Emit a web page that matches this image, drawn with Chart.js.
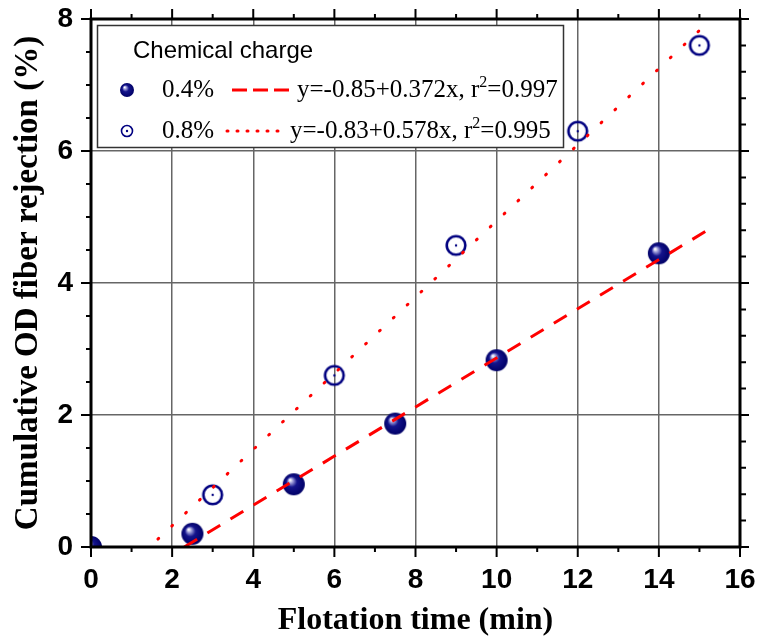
<!DOCTYPE html>
<html>
<head>
<meta charset="utf-8">
<script src="https://cdn.jsdelivr.net/npm/chart.js@4.4.1/dist/chart.umd.min.js"></script>
<style>
  html, body { margin: 0; padding: 0; background: #fff; }
  #chart { display: block; }
</style>
</head>
<body>
<canvas id="chart" width="760" height="643"></canvas>
<script>
// Cumulative OD fiber rejection vs flotation time, two chemical charges

const seriesLabels = ['0.4%', '0.8%'];
const time04 = [0, 2.5, 5, 7.5, 10, 14];
const rej04 = [0, 0.2, 0.95, 1.87, 2.83, 4.45];
const time08 = [3, 6, 9, 12, 15];
const rej08 = [0.79, 2.6, 4.57, 6.3, 7.6];

// fitted lines, end points
const fit04X = [2.3, 15.2];
const fit04Y = [0, 4.8];
const fit08X = [1.65, 15.3];
const fit08Y = [0.12, 8];
const fitText = [['y=-0.85+0.372x, r', '=0.997'], ['y=-0.83+0.578x, r', '=0.995']];

const xMin = 0, xMax = 16, yMin = 0, yMax = 8;

const navy = '#000080';
const red = '#ff0000';

function zip(xs, ys) {
    return xs.map((x, i) => ({ x: x, y: ys[i] }));
}

function drawSphere(ctx, cx, cy, r) {
    const g = ctx.createRadialGradient(cx - r * 0.35, cy - r * 0.4, r * 0.05, cx, cy, r);
    g.addColorStop(0, '#ffffff');
    g.addColorStop(0.18, '#9a9ad8');
    g.addColorStop(0.45, '#14148c');
    g.addColorStop(1, '#000066');
    ctx.fillStyle = g;
    ctx.beginPath();
    ctx.arc(cx, cy, r, 0, Math.PI * 2);
    ctx.fill();
}

function drawRing(ctx, cx, cy, r, w) {
    ctx.strokeStyle = navy;
    ctx.lineWidth = w;
    ctx.beginPath();
    ctx.arc(cx, cy, r, 0, Math.PI * 2);
    ctx.stroke();
    ctx.fillStyle = navy;
    ctx.beginPath();
    ctx.arc(cx, cy, 1.2, 0, Math.PI * 2);
    ctx.fill();
}

function markerCanvas(size, draw) {
    const c = document.createElement('canvas');
    c.width = size;
    c.height = size;
    draw(c.getContext('2d'), size / 2, size / 2);
    return c;
}

const sphereImg = markerCanvas(24, (c, x, y) => drawSphere(c, x, y, 11));
const ringImg = markerCanvas(24, (c, x, y) => drawRing(c, x, y, 9.3, 2.6));

// axis frame with ticks on all four sides
const framePlugin = {
    id: 'frame',
    afterDraw(chart) {
        const { ctx, chartArea: a, scales } = chart;
        const sx = scales.x, sy = scales.y;
        ctx.save();
        ctx.strokeStyle = '#000';
        ctx.lineWidth = 2;
        ctx.beginPath();
        for (let v = xMin; v <= xMax; v++) {
            const px = sx.getPixelForValue(v);
            const len = v % 2 === 0 ? 10 : 5;
            ctx.moveTo(px, a.bottom); ctx.lineTo(px, a.bottom + len);
            ctx.moveTo(px, a.top); ctx.lineTo(px, a.top - len);
        }
        for (let i = 0; i <= 16; i++) {
            const py = sy.getPixelForValue(i * 0.5);
            const len = i % 4 === 0 ? 10 : 5;
            ctx.moveTo(a.left, py); ctx.lineTo(a.left - len, py);
        }
        for (let i = 0; i <= 20; i++) {
            const py = sy.getPixelForValue(i * 0.4);
            const len = i % 5 === 0 ? 9 : 6;
            ctx.moveTo(a.right, py); ctx.lineTo(a.right + len, py);
        }
        ctx.stroke();
        ctx.lineWidth = 3;
        ctx.strokeRect(a.left, a.top, a.right - a.left, a.bottom - a.top);
        ctx.restore();
    }
};

// legend box in the upper left of the plot
const legendPlugin = {
    id: 'boxLegend',
    afterDraw(chart) {
        const { ctx, chartArea: a } = chart;
        const left = a.left + 6, top = a.top + 6;
        ctx.save();
        ctx.fillStyle = '#fff';
        ctx.fillRect(left, top, 467, 123);
        ctx.strokeStyle = '#333';
        ctx.lineWidth = 1.5;
        ctx.strokeRect(left + 0.5, top + 0.5, 466, 122);

        ctx.fillStyle = '#000';
        ctx.textBaseline = 'alphabetic';
        ctx.font = '24px "Liberation Sans"';
        ctx.fillText('Chemical charge', left + 36, top + 33);

        const rows = [top + 65, top + 106];
        drawSphere(ctx, left + 30, rows[0], 7);
        drawRing(ctx, left + 30, rows[1], 5.5, 1.6);

        ctx.strokeStyle = red;
        ctx.lineWidth = 3;
        ctx.setLineDash([15, 6]);
        ctx.beginPath();
        ctx.moveTo(left + 135, rows[0]); ctx.lineTo(left + 193, rows[0]);
        ctx.stroke();
        ctx.lineCap = 'round';
        ctx.setLineDash([1, 9]);
        ctx.beginPath();
        ctx.moveTo(left + 130, rows[1]); ctx.lineTo(left + 188, rows[1]);
        ctx.stroke();
        ctx.setLineDash([]);

        const textX = [left + 200, left + 193];
        seriesLabels.forEach((lab, i) => {
            const base = rows[i] + 7;
            ctx.fillStyle = '#000';
            ctx.font = '25px "Liberation Serif"';
            ctx.fillText(lab, left + 65, base);
            let x = textX[i];
            ctx.fillText(fitText[i][0], x, base);
            x += ctx.measureText(fitText[i][0]).width;
            ctx.font = '16px "Liberation Serif"';
            ctx.fillText('2', x, base - 10);
            x += ctx.measureText('2').width;
            ctx.font = '25px "Liberation Serif"';
            ctx.fillText(fitText[i][1], x, base);
        });
        ctx.restore();
    }
};

const tickFont = { family: 'Liberation Sans', size: 28, weight: 'bold' };
const titleFont = { family: 'Liberation Serif', size: 32, weight: 'bold' };

function gridColor(min, max) {
    return (c) => (c.tick && c.tick.value > min && c.tick.value < max) ? '#666' : 'rgba(0,0,0,0)';
}

new Chart(document.getElementById('chart'), {
    type: 'scatter',
    data: {
        datasets: [
            {
                label: 'fit ' + seriesLabels[0],
                type: 'line',
                data: zip(fit04X, fit04Y),
                borderColor: red,
                borderWidth: 3,
                borderDash: [15, 12],
                pointRadius: 0,
                fill: false,
                order: 0,
                clip: 0
            },
            {
                label: 'fit ' + seriesLabels[1],
                type: 'line',
                data: zip(fit08X, fit08Y),
                borderColor: red,
                borderWidth: 3,
                borderDash: [1, 18],
                borderCapStyle: 'round',
                pointRadius: 0,
                fill: false,
                order: 0,
                clip: 0
            },
            {
                label: seriesLabels[0],
                data: zip(time04, rej04),
                pointStyle: sphereImg,
                pointRadius: 11,
                order: 1,
                clip: 0
            },
            {
                label: seriesLabels[1],
                data: zip(time08, rej08),
                pointStyle: ringImg,
                pointRadius: 11,
                order: 1,
                clip: 0
            }
        ]
    },
    options: {
        responsive: false,
        animation: false,
        devicePixelRatio: 1,
        layout: { padding: { top: 19, right: 20, left: 0, bottom: 0 } },
        plugins: {
            legend: { display: false },
            tooltip: { enabled: false }
        },
        scales: {
            x: {
                type: 'linear',
                min: xMin,
                max: xMax,
                afterFit: (s) => { s.height = 96; s.paddingLeft = 0; s.paddingRight = 0; },
                ticks: { stepSize: 2, color: '#000', font: tickFont, padding: 16, maxRotation: 0, autoSkip: false },
                grid: { color: gridColor(xMin, xMax), lineWidth: 1.5, drawTicks: false },
                border: { display: false },
                title: { display: true, text: 'Flotation time (min)', color: '#000', font: titleFont, padding: { top: 0, bottom: 3 } }
            },
            y: {
                type: 'linear',
                min: yMin,
                max: yMax,
                afterFit: (s) => { s.width = 91; s.paddingTop = 0; s.paddingBottom = 0; },
                ticks: { stepSize: 2, color: '#000', font: tickFont, padding: 18 },
                grid: { color: gridColor(yMin, yMax), lineWidth: 1.5, drawTicks: false },
                border: { display: false },
                title: {
                    display: true,
                    text: 'Cumulative OD fiber rejection (%)',
                    color: '#000',
                    font: { family: 'Liberation Serif', size: 33, weight: 'bold' },
                    padding: { top: 9, bottom: 0 }
                }
            }
        }
    },
    plugins: [framePlugin, legendPlugin]
});
</script>
</body>
</html>
